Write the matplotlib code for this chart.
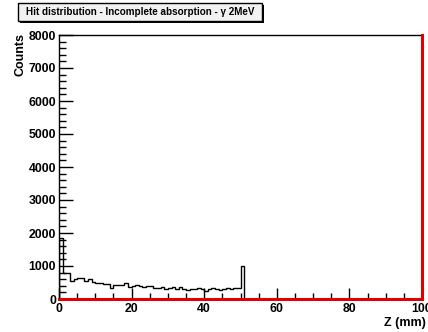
import matplotlib
matplotlib.use("Agg")
import matplotlib.pyplot as plt
import numpy as np
from matplotlib.patches import Rectangle
from matplotlib.ticker import MultipleLocator

# hit counts per 1 mm bin, Z = 0..51 mm (zero beyond)
counts = [1850, 800, 780, 560, 600, 630, 650, 540, 600, 520,
          500, 470, 450, 460, 330, 420, 430, 410, 500, 360,
          400, 410, 390, 360, 400, 380, 340, 340, 370, 300,
          320, 350, 300, 370, 290, 260, 300, 310, 320, 290,
          250, 310, 330, 300, 280, 300, 330, 310, 330, 340,
          1000]
edges = np.arange(len(counts) + 1)

title = "Hit distribution - Incomplete absorption - \u03b3 2MeV"
xlabel = "Z (mm)"
ylabel = "Counts"
xmax, ymax = 100, 8000

plt.rcParams['font.family'] = ['Liberation Sans', 'DejaVu Sans']
plt.rcParams['font.weight'] = 'bold'

W, H = 428, 332
fig = plt.figure(figsize=(W/100, H/100), dpi=100)
ax = fig.add_axes([59/W, 1 - 299/H, (422 - 59)/W, (299 - 35)/H])

ax.stairs(counts, edges, color='black', linewidth=1.0, baseline=0)

# red frame of the second (empty) histogram
ax.plot([0, xmax], [0, 0], color='#e00000', linewidth=2.2, clip_on=False, zorder=5)
ax.plot([xmax, xmax], [0, ymax], color='#e00000', linewidth=2.2, clip_on=False, zorder=5)

ax.set_xlim(0, xmax)
ax.set_ylim(0, ymax)
for s in ['top', 'left']:
    ax.spines[s].set_linewidth(1.0)
ax.spines['bottom'].set_visible(False)
ax.spines['right'].set_visible(False)

ax.xaxis.set_major_locator(MultipleLocator(20))
ax.xaxis.set_minor_locator(MultipleLocator(5))
ax.yaxis.set_major_locator(MultipleLocator(1000))
ax.yaxis.set_minor_locator(MultipleLocator(200))
ax.tick_params(which='both', direction='in', top=False, right=False,
               labelsize=8.8, width=1.0)
ax.tick_params(axis='y', which='major', length=10, pad=2)
ax.tick_params(axis='y', which='minor', length=5)
ax.tick_params(axis='x', which='major', length=8, pad=3)
ax.tick_params(axis='x', which='minor', length=4)
for lab in ax.get_xticklabels() + ax.get_yticklabels():
    lab.set_fontweight('bold')

fig.text(426/W, 1 - 323/H, xlabel, ha='right', va='center',
         fontsize=9, fontweight='bold')
fig.text(20/W, 1 - 33/H, ylabel, ha='center', va='top', rotation=90,
         fontsize=9, fontweight='bold')

# title box with shadow
bx0, by0, bx1, by1 = 18, 3, 262, 21
fig.patches.append(Rectangle(((bx0 + 2)/W, 1 - (by1 + 2)/H), (bx1 - bx0)/W, (by1 - by0)/H,
                             transform=fig.transFigure, facecolor='black',
                             edgecolor='none', zorder=1))
fig.patches.append(Rectangle((bx0/W, 1 - by1/H), (bx1 - bx0)/W, (by1 - by0)/H,
                             transform=fig.transFigure, facecolor='#f2f2f2',
                             edgecolor='black', linewidth=1.0, zorder=2))
fig.text((bx0 + bx1)/2/W, 1 - (by0 + by1)/2/H, title, ha='center', va='center',
         fontsize=7.1, fontweight='bold', zorder=3)

fig.savefig("out.png", dpi=100)
